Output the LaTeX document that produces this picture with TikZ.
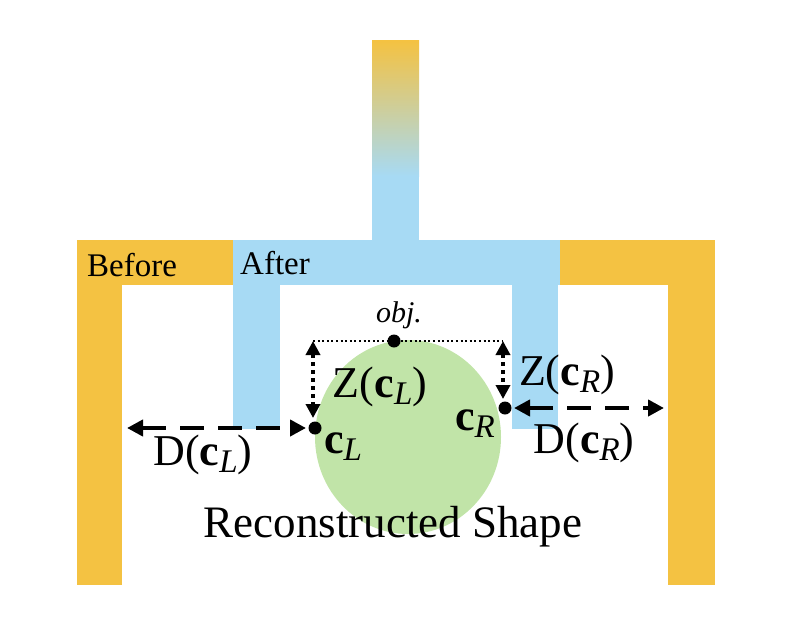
\documentclass[tikz,border=0pt]{standalone}
\usepackage{fontspec}
\setmainfont{Liberation Serif}
\usetikzlibrary{arrows.meta}
\definecolor{bOrange}{RGB}{244,194,66}
\definecolor{aBlue}{RGB}{167,218,244}
\definecolor{sGreen}{RGB}{193,228,168}
\newcommand{\lsub}[1]{\raisebox{-7pt}{\fontsize{33}{36}\selectfont\itshape #1}}
\tikzset{
  lbl/.style={inner sep=0pt, font=\fontsize{33}{36}\selectfont, anchor=base west},
  mlbl/.style={inner sep=0pt, font=\fontsize{44}{48}\selectfont, anchor=base},
  dimarrow/.style={line width=4.5pt, dash pattern=on 24pt off 14pt, {Triangle[length=16pt,width=16pt]}-{Triangle[length=16pt,width=16pt]}},
  zarrow/.style={line width=4.5pt, dash pattern=on 4pt off 4pt, {Triangle[length=14pt,width=14pt]}-{Triangle[length=14pt,width=14pt]}},
  dotpt/.style={circle, fill=black, inner sep=0pt, minimum size=13pt},
}
\begin{document}
\begin{tikzpicture}[x=1pt,y=-1pt]
\useasboundingbox (0,0) rectangle (786,618);
% orange "Before" frame
\fill[bOrange] (77,240) rectangle (122,585);
\fill[bOrange] (77,240) rectangle (234,285);
\fill[bOrange] (559,240) rectangle (715,285);
\fill[bOrange] (668,240) rectangle (715,585);
% blue "After" frame
\fill[aBlue] (233,240) rectangle (560,285);
\fill[aBlue] (233,284) rectangle (280,429);
\fill[aBlue] (512,284) rectangle (558,429);
\fill[aBlue] (372,175) rectangle (419,241);
\shade[top color=bOrange, bottom color=aBlue] (372,41) rectangle (419,176);
% shape
\fill[sGreen] (408,437) ellipse [x radius=93, y radius=97];
% labels
\node[lbl] (before) at (87,276) {Before};
\node[lbl] (after) at (240,274) {After};
\node[inner sep=0pt, font=\fontsize{45}{50}\selectfont] (rec) at (393,527) {Reconstructed Shape};
% points
\node[dotpt] (obj) at (394,341) {};
\node[dotpt] (cL) at (315,428) {};
\node[dotpt] (cR) at (505,408) {};
\coordinate (zlt) at (313,341);
\coordinate (zlb) at (313,418);
\coordinate (zrt) at (503,341);
\coordinate (zrb) at (503,399);
\coordinate (dll) at (127,428);
\coordinate (dlr) at (306,428);
\coordinate (drl) at (514,408);
\coordinate (drr) at (664,408);
\draw[line width=2pt, dash pattern=on 2pt off 2.6pt] (zlt) -- (obj) -- (zrt);
\draw[zarrow] (zlt) -- (zlb);
\draw[zarrow] (zrt) -- (zrb);
\draw[dimarrow] (dll) -- (dlr);
\draw[dimarrow] (drl) -- (drr);
\node[inner sep=0pt, anchor=base, font=\fontsize{30}{33}\selectfont\itshape] (objl) at (399,322) {obj.};
\node[mlbl] (zl) at (380,397) {Z(\textbf{c}\lsub{L})};
\node[mlbl] (zr) at (567,385) {Z(\textbf{c}\lsub{R})};
\node[mlbl] (dl) at (203,465) {D(\textbf{c}\lsub{L})};
\node[mlbl] (dr) at (584,453) {D(\textbf{c}\lsub{R})};
\node[mlbl] (cLl) at (343,453) {\textbf{c}\lsub{L}};
\node[mlbl] (cRl) at (475,430) {\textbf{c}\lsub{R}};
\end{tikzpicture}
\end{document}
